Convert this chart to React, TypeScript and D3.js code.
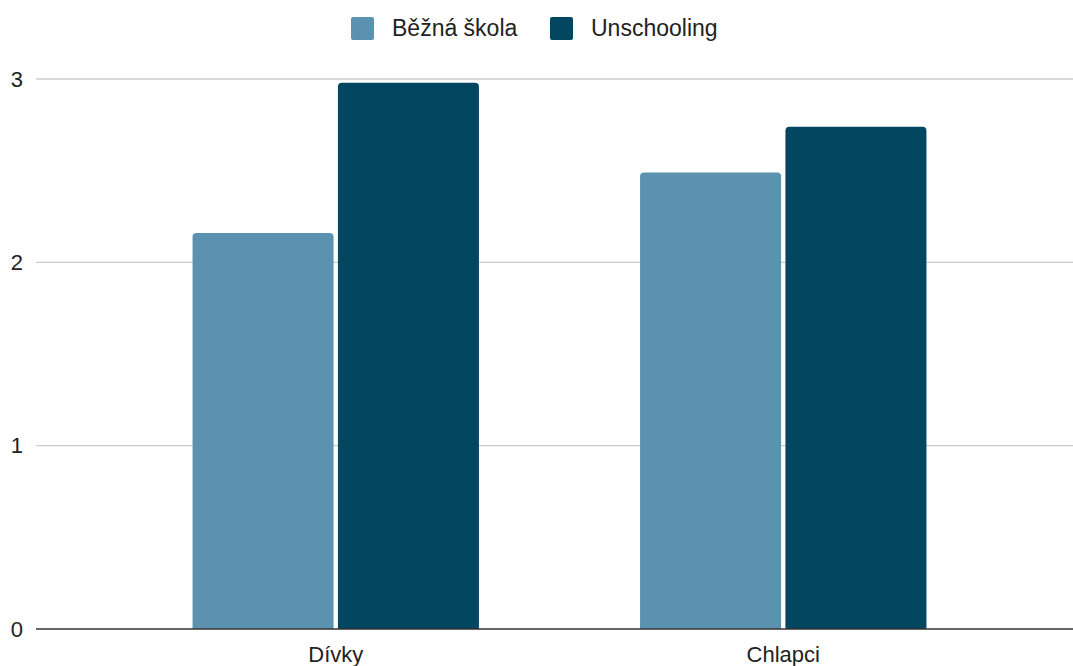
import React from "react";
import * as d3 from "d3";

const categories = ["Dívky", "Chlapci"];
const seriesNames = ["Běžná škola", "Unschooling"];
const bezna = [2.16, 2.49];
const unschooling = [2.98, 2.74];
const yTicks = [0, 1, 2, 3];
const colors = ["#5b92af", "#03465f"];

const W = 1073;
const H = 666;
const FONT = "Arial, 'Liberation Sans', sans-serif";

function topRoundedRect(x: number, y: number, w: number, h: number, r: number) {
  const rr = Math.min(r, h, w / 2);
  return `M${x},${y + h}V${y + rr}Q${x},${y} ${x + rr},${y}H${x + w - rr}Q${x + w},${y} ${x + w},${y + rr}V${y + h}Z`;
}

export default function App() {
  const y = d3.scaleLinear().domain([0, 3]).range([629, 79]);
  const x0 = d3
    .scaleBand<string>()
    .domain(categories)
    .range([112, 1007])
    .paddingInner(0.36)
    .paddingOuter(0.18);
  const x1 = d3
    .scaleBand<string>()
    .domain(seriesNames)
    .range([0, x0.bandwidth()])
    .paddingInner(0.03);

  const values = [bezna, unschooling];

  return (
    <svg
      width={W}
      height={H}
      style={{ position: "absolute", left: 0, top: 0, background: "#fff" }}
      fontFamily={FONT}
    >
      {/* gridlines */}
      {yTicks
        .filter((t) => t !== 0)
        .map((t) => (
          <line key={t} x1={36} x2={W} y1={y(t)} y2={y(t)} stroke="#cccccc" strokeWidth={1.3} />
        ))}
      {/* y tick labels */}
      {yTicks.map((t) => (
        <text key={t} x={23} y={y(t)} dy="0.35em" textAnchor="end" fontSize={22} fill="#222">
          {t}
        </text>
      ))}
      {/* bars */}
      {categories.map((c, ci) =>
        seriesNames.map((s, si) => {
          const bx = (x0(c) ?? 0) + (x1(s) ?? 0);
          const by = y(values[si][ci]);
          return (
            <path
              key={c + s}
              d={topRoundedRect(bx, by, x1.bandwidth(), y(0) - by, 4)}
              fill={colors[si]}
            />
          );
        })
      )}
      {/* baseline */}
      <line x1={36} x2={W} y1={y(0)} y2={y(0)} stroke="#333" strokeWidth={1.5} />
      {/* category labels */}
      {categories.map((c) => (
        <text
          key={c}
          x={(x0(c) ?? 0) + x0.bandwidth() / 2}
          y={662}
          textAnchor="middle"
          fontSize={22}
          fill="#222"
        >
          {c}
        </text>
      ))}
      {/* legend */}
      {seriesNames.map((s, i) => {
        const lx = [351, 550][i];
        return (
          <g key={s}>
            <rect x={lx} y={17} width={23} height={23} rx={2} fill={colors[i]} />
            <text x={lx + 41} y={36} fontSize={23} fill="#222">
              {s}
            </text>
          </g>
        );
      })}
    </svg>
  );
}
